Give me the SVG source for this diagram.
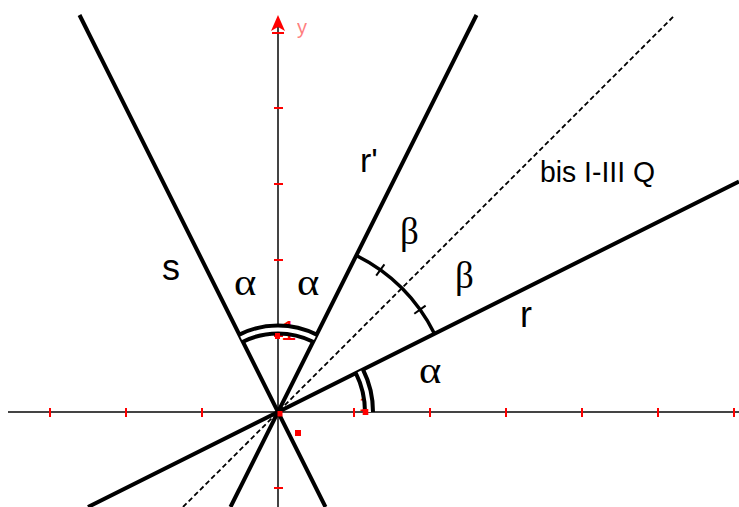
<svg xmlns="http://www.w3.org/2000/svg" width="739" height="507" viewBox="0 0 739 507">
<style>
.axis{stroke:#444;stroke-width:2;fill:none}
.tick{stroke:#f00;stroke-width:2}
.pt{fill:#f00}
.line{stroke:#000;stroke-width:4;fill:none}
.dash{stroke:#000;stroke-width:1.8;stroke-dasharray:5 3;fill:none}
.dbl{stroke:#000;stroke-width:12;fill:none}
.dblw{stroke:#fff;stroke-width:4;fill:none}
.arc{stroke:#000;stroke-width:3.5;fill:none}
.arctick{stroke:#000;stroke-width:2}
.sans{font-family:"Liberation Sans",Arial,sans-serif;fill:#000}
.greek{font-family:"Liberation Serif","Times New Roman",serif;fill:#000}
.red{font-family:"Liberation Sans",Arial,sans-serif;fill:#f00}
</style>
<rect width="739" height="507" fill="#fff"/>
<g id="axes">
<line class="axis" x1="8" y1="412" x2="739" y2="412"/>
<line class="axis" x1="278" y1="22" x2="278" y2="507"/>
<polygon points="278,15 285,31 278,27 271,31" fill="#f00"/>
<g class="tick">
<line x1="50" y1="408" x2="50" y2="417"/><line x1="126" y1="408" x2="126" y2="417"/><line x1="202" y1="408" x2="202" y2="417"/>
<line x1="354" y1="408" x2="354" y2="417"/><line x1="430" y1="408" x2="430" y2="417"/><line x1="506" y1="408" x2="506" y2="417"/>
<line x1="582" y1="408" x2="582" y2="417"/><line x1="658" y1="408" x2="658" y2="417"/><line x1="734" y1="408" x2="734" y2="417"/>
<line x1="274" y1="488" x2="283" y2="488"/><line x1="274" y1="336" x2="283" y2="336"/><line x1="274" y1="260" x2="283" y2="260"/>
<line x1="274" y1="184" x2="283" y2="184"/><line x1="274" y1="108" x2="283" y2="108"/><line x1="272" y1="33" x2="284" y2="33"/>
</g>
<text class="red" x="297" y="34" font-size="20" opacity="0.5">y</text>
<text class="red" x="281" y="340" font-size="28">1</text>
<text class="red" x="359" y="411" font-size="21">1</text>
</g>
<g id="connectors">
<line class="dash" x1="183" y1="507" x2="675" y2="15"/>
<line id="r" class="line" x1="88" y1="507" x2="739" y2="181.5"/>
<line id="r-prime" class="line" x1="230.5" y1="507" x2="476.5" y2="15"/>
<line id="s" class="line" x1="325.5" y1="507" x2="79.5" y2="15"/>
</g>
<g id="angle-y">
<path class="dbl" d="M241.1,338.2 A82.5,82.5 0 0 1 314.9,338.2"/>
<path class="dblw" d="M241.1,338.2 A82.5,82.5 0 0 1 314.9,338.2"/>
</g>
<g id="angle-x">
<path class="dbl" d="M369,412 A91,91 0 0 0 359.4,371.3"/>
<path class="dblw" d="M369,412 A91,91 0 0 0 359.4,371.3"/>
</g>
<g id="angle-beta">
<path class="arc" d="M434.5,333.7 A175,175 0 0 0 356.3,255.5"/>
<line class="arctick" x1="376.2" y1="275.7" x2="384.4" y2="264.4"/>
<line class="arctick" x1="414.3" y1="313.8" x2="425.6" y2="305.6"/>
</g>
<g id="points">
<rect class="pt" x="277.5" y="411" width="5" height="5.5"/>
<rect class="pt" x="295" y="430" width="6" height="6"/>
<rect class="pt" x="275" y="333" width="5" height="6"/>
<rect class="pt" x="362.7" y="409" width="5.6" height="6"/>
</g>
<g id="labels">
<text class="sans" x="162" y="280" font-size="36">s</text>
<text class="greek" font-size="37" transform="translate(234,295) scale(1.15,1)">α</text>
<text class="greek" font-size="37" transform="translate(297,295) scale(1.15,1)">α</text>
<text class="sans" x="360" y="172" font-size="34">r'</text>
<text class="greek" x="400" y="244" font-size="37">β</text>
<text class="greek" x="455" y="288" font-size="37">β</text>
<text class="sans" x="540" y="182" font-size="30" textLength="115" lengthAdjust="spacingAndGlyphs">bis I-III Q</text>
<text class="sans" x="520" y="327" font-size="36">r</text>
<text class="greek" font-size="37" transform="translate(419,383) scale(1.15,1)">α</text>
</g>
</svg>
